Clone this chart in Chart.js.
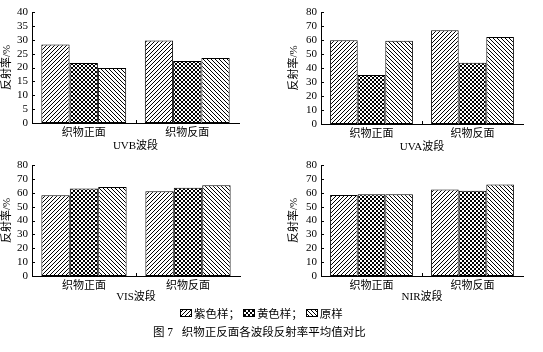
<!DOCTYPE html>
<html>
<head>
<meta charset="utf-8">
<script src="https://cdn.jsdelivr.net/npm/chart.js@4/dist/chart.umd.min.js"></script>
<style>
  html, body { margin:0; padding:0; background:#fff; }
  body { width:543px; height:352px; position:relative; overflow:hidden;
         font-family:"Liberation Serif","Noto Sans CJK SC",serif; color:#000; }
  .box { position:absolute; }
  #legend { position:absolute; left:180px; top:306px; height:14px; display:flex; align-items:center;
            font-size:11.5px; white-space:pre; }
  #legend canvas { margin-right:2px; }
  #caption { position:absolute; left:153px; top:323px; font-size:11.5px; white-space:pre; }
</style>
</head>
<body>
<div class="box" style="left:0px;top:0px;"><canvas id="c1" width="245" height="156"></canvas></div>
<div class="box" style="left:287px;top:0px;"><canvas id="c2" width="242" height="157"></canvas></div>
<div class="box" style="left:0px;top:153px;"><canvas id="c3" width="246" height="154"></canvas></div>
<div class="box" style="left:287px;top:153px;"><canvas id="c4" width="242" height="154"></canvas></div>
<div id="legend"></div>
<div id="caption">图 7   织物正反面各波段反射率平均值对比</div>
<script>
// ---- data ----
const categories = ['织物正面', '织物反面'];
const seriesNames = ['紫色样', '黄色样', '原样'];
const panelTitles = ['UVB波段', 'UVA波段', 'VIS波段', 'NIR波段'];
const yTitle = '反射率/%';

const uvbPurple = [28.3, 29.7];
const uvbYellow = [21.6, 22.3];
const uvbOriginal = [19.8, 23.4];

const uvaPurple = [59.8, 67.0];
const uvaYellow = [35.0, 43.8];
const uvaOriginal = [59.4, 62.2];

const visPurple = [58.2, 61.0];
const visYellow = [63.0, 63.6];
const visOriginal = [64.2, 65.4];

const nirPurple = [58.3, 62.4];
const nirYellow = [59.0, 61.4];
const nirOriginal = [59.0, 66.0];

const uvbTicks = [0, 5, 10, 15, 20, 25, 30, 35, 40];
const otherTicks = [0, 10, 20, 30, 40, 50, 60, 70, 80];

// ---- patterns ----
function makePattern(kind) {
  const s = 4;
  const c = document.createElement('canvas');
  c.width = s; c.height = s;
  const g = c.getContext('2d');
  g.fillStyle = '#fff'; g.fillRect(0, 0, s, s);
  g.strokeStyle = '#000'; g.lineWidth = 1;
  function fwd() { // "/"
    g.beginPath();
    g.moveTo(-1, s + 1); g.lineTo(s + 1, -1);
    g.moveTo(-1, 1); g.lineTo(1, -1);
    g.moveTo(s - 1, s + 1); g.lineTo(s + 1, s - 1);
    g.stroke();
  }
  function back() { // "\"
    g.beginPath();
    g.moveTo(-1, -1); g.lineTo(s + 1, s + 1);
    g.moveTo(s - 1, -1); g.lineTo(s + 1, 1);
    g.moveTo(-1, s - 1); g.lineTo(1, s + 1);
    g.stroke();
  }
  if (kind === 'fwd') fwd();
  else if (kind === 'back') back();
  else { fwd(); back(); }
  return g.createPattern(c, 'repeat');
}
const fills = [makePattern('fwd'), makePattern('cross'), makePattern('back')];

const FONT = "'Liberation Serif','Noto Sans CJK SC',serif";

const inwardTicks = {
  id: 'inwardTicks',
  afterDraw(chart) {
    const ctx = chart.ctx, a = chart.chartArea;
    const y = chart.scales.y, x = chart.scales.x;
    ctx.save();
    ctx.strokeStyle = '#000'; ctx.lineWidth = 1;
    ctx.beginPath();
    y.ticks.forEach(t => {
      const py = Math.round(y.getPixelForValue(t.value)) + 0.5;
      ctx.moveTo(a.left, py); ctx.lineTo(a.left + 3, py);
    });
    const mid = Math.round((x.getPixelForValue(0) + x.getPixelForValue(1)) / 2) + 0.5;
    ctx.moveTo(mid, a.bottom); ctx.lineTo(mid, a.bottom - 3);
    ctx.stroke();
    ctx.restore();
  }
};

function makeChart(id, s1, s2, s3, tickVals, title, yW, xH, padTop, padRight, xLabPad) {
  const data = [s1, s2, s3];
  return new Chart(document.getElementById(id), {
    type: 'bar',
    data: {
      labels: categories,
      datasets: seriesNames.map((n, i) => ({
        label: n,
        data: data[i],
        backgroundColor: fills[i],
        borderColor: '#000',
        borderWidth: 1,
        borderSkipped: false,
        barPercentage: 1.0,
        categoryPercentage: 0.82
      }))
    },
    options: {
      responsive: false,
      animation: false,
      devicePixelRatio: 1,
      layout: { padding: { top: padTop, right: padRight, left: 0, bottom: 0 } },
      plugins: { legend: { display: false }, tooltip: { enabled: false } },
      scales: {
        x: {
          grid: { display: false, drawTicks: false },
          border: { display: true, color: '#000', width: 1 },
          ticks: { color: '#000', padding: xLabPad, font: { family: FONT, size: 11 } },
          title: { display: true, text: title, color: '#000', padding: { top: 0, bottom: 3 },
                   font: { family: FONT, size: 11 } },
          afterFit(sc) { sc.height = xH; }
        },
        y: {
          min: tickVals[0], max: tickVals[tickVals.length - 1],
          afterBuildTicks(sc) { sc.ticks = tickVals.map(v => ({ value: v })); },
          grid: { display: false, drawTicks: false },
          border: { display: true, color: '#000', width: 1 },
          ticks: { autoSkip: false, color: '#000', padding: 4, font: { family: FONT, size: 11 } },
          title: { display: true, text: yTitle, color: '#000', padding: { top: 1, bottom: 0 },
                   font: { family: FONT, size: 11 } },
          afterFit(sc) { sc.width = yW; }
        }
      }
    },
    plugins: [inwardTicks]
  });
}

makeChart('c1', uvbPurple, uvbYellow, uvbOriginal, uvbTicks, panelTitles[0], 32, 33, 12, 6, 4);
makeChart('c2', uvaPurple, uvaYellow, uvaOriginal, otherTicks, panelTitles[1], 34, 33, 12, 6, 4);
makeChart('c3', visPurple, visYellow, visOriginal, otherTicks, panelTitles[2], 32, 31, 12, 6, 4);
makeChart('c4', nirPurple, nirYellow, nirOriginal, otherTicks, panelTitles[3], 34, 31, 12, 6, 4);

// ---- legend ----
const leg = document.getElementById('legend');
const sep = ['； ', '； ', ''];
seriesNames.forEach((n, i) => {
  const c = document.createElement('canvas');
  c.width = 12; c.height = 8;
  const g = c.getContext('2d');
  g.fillStyle = fills[i]; g.fillRect(0, 0, 12, 8);
  g.strokeStyle = '#000'; g.lineWidth = 1; g.strokeRect(0.5, 0.5, 11, 7);
  leg.appendChild(c);
  const sp = document.createElement('span');
  sp.textContent = n + sep[i];
  leg.appendChild(sp);
});
</script>
</body>
</html>
